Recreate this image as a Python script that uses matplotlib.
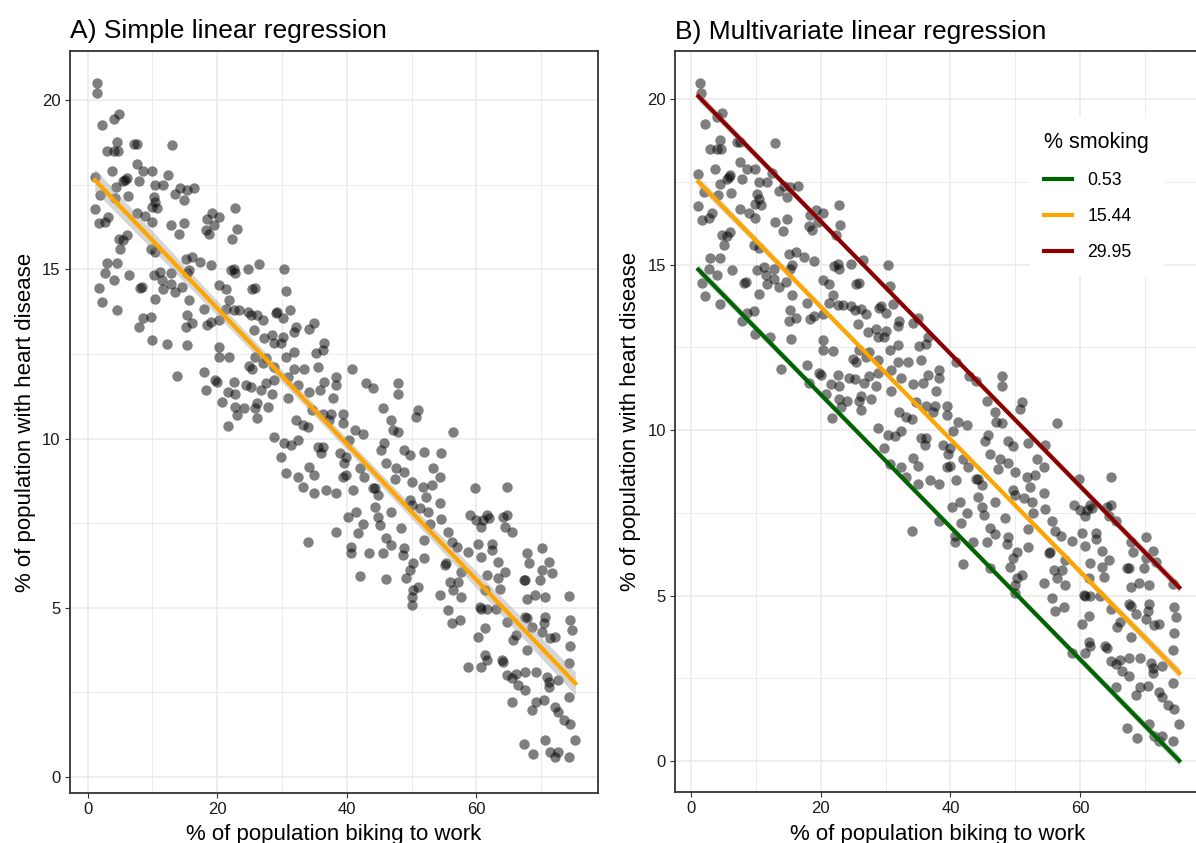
import numpy as np
import matplotlib
matplotlib.use("Agg")
import matplotlib.pyplot as plt
from matplotlib.lines import Line2D
from matplotlib.ticker import MultipleLocator

plt.rcParams['font.family'] = ['Liberation Sans', 'DejaVu Sans']

# ---- data: % biking (x) and % heart disease (y) ----
biking = [
 1.4, 1.5, 4.8, 4.0, 2.2, 4.5, 2.9, 4.0, 4.6, 7.1, 7.6, 13.0, 1.1, 3.7, 7.6, 8.6, 9.9, 6.0, 5.8, 5.5,
 7.9, 12.4, 10.4, 11.7, 4.4, 1.9, 4.2, 6.2, 14.3, 15.3, 16.4, 13.5, 14.8, 10.2, 10.4, 9.9, 10.7, 1.1, 7.6, 8.9,
 9.9, 3.2, 2.7, 1.7, 12.9, 14.8, 22.8, 19.2, 18.4, 20.3, 19.5, 18.2, 18.7, 23.0, 22.3, 14.1, 6.0, 4.8, 5.5, 5.0,
 9.7, 10.4, 15.1, 16.1, 17.4, 19.0, 15.6, 15.3, 2.9, 4.5, 2.7, 4.0, 6.3, 1.7, 2.2, 4.5, 8.4, 8.1, 11.2, 12.8,
 10.2, 11.5, 11.7, 12.8, 13.5, 14.6, 15.6, 10.4, 20.3, 21.3, 22.1, 22.6, 22.8, 24.7, 25.4, 21.8, 21.3, 22.6, 23.4, 24.7,
 25.2, 17.9, 19.0, 20.3, 15.3, 15.1, 16.1, 18.4, 7.9, 8.6, 9.7, 12.2, 15.4, 9.9, 13.8,
 26.5, 30.3, 25.9, 30.6, 29.3, 29.0, 30.1, 31.2, 26.2, 27.0, 25.7, 32.1, 31.9, 34.2, 35.0, 27.2, 28.5, 28.8, 30.1, 29.8,
 36.5, 36.3, 35.2, 30.6, 31.9, 20.3, 20.3, 21.8, 24.9, 25.4, 25.9, 27.0, 27.5, 28.8, 17.9, 19.7, 20.0, 18.2, 22.6, 21.6,
 22.8, 20.8, 30.9, 31.9, 33.4, 35.5, 28.8, 28.5, 27.5, 24.4, 25.2, 26.7, 22.8, 24.1, 23.1, 26.2, 25.9, 27.8, 26.2, 21.7,
 30.9, 32.4, 34.2, 35.8, 36.5, 38.3, 38.3, 37.8, 40.8, 42.9, 44.0, 32.1, 33.2, 34.0, 34.7, 36.3, 37.6, 37.3, 39.4, 39.4,
 28.8, 30.3, 31.4, 32.4, 29.8, 35.5, 36.3, 36.0, 38.9, 39.9, 40.4, 41.2, 42.5, 39.6, 30.6, 32.4, 34.2, 35.0, 33.2, 35.0,
 36.8, 38.3, 39.4, 39.9, 40.9, 42.7, 42.0, 44.0,
 47.9, 47.9, 45.6, 46.9, 47.1, 47.9, 51.0, 50.7, 56.4, 45.8, 45.3, 48.9, 49.7, 52.0, 54.6, 46.1, 47.6, 47.4, 48.9, 50.0,
 53.3, 54.4, 53.1, 51.8, 44.3, 44.8, 44.3, 46.9, 49.7, 50.0, 51.3, 52.3, 52.6, 54.4, 54.6, 52.8, 59.8, 44.8, 45.1, 46.1,
 46.9, 45.6, 48.4, 48.9, 48.7, 50.2, 49.7, 49.2, 52.0, 52.0, 55.7, 56.2, 57.0, 55.4, 55.2, 58.8, 57.7, 59.0, 60.0, 60.8,
 60.3, 60.8, 57.2, 55.9, 56.4, 57.7, 54.4, 51.0, 50.2, 50.0, 50.0, 55.7, 56.2, 57.5, 60.6, 60.3, 38.3, 40.2, 41.4, 42.5,
 41.7, 40.7, 40.7, 43.5, 42.0, 46.1, 34.0,
 61.6, 61.1, 61.9, 64.2, 64.7, 64.4, 65.5, 62.4, 62.4, 63.4, 64.4, 63.4, 63.7, 61.3, 61.6, 67.8, 68.1, 67.5, 67.3, 67.8,
 70.1, 71.2, 70.1, 71.7, 69.9, 69.1, 70.6, 74.3, 61.6, 60.8, 63.1, 67.8, 67.5, 64.7, 61.3, 70.6, 70.4, 70.1, 71.4, 72.2,
 68.6, 74.5, 74.8, 74.5, 74.3, 72.7, 74.3, 66.2, 65.7, 67.8, 58.8, 60.8, 61.6, 61.3, 63.9, 64.2, 64.7, 65.5, 66.2, 67.5,
 69.3, 66.5, 67.5, 70.9, 71.2, 71.2, 70.4, 69.3, 72.2, 72.7, 73.5, 74.5, 65.5, 68.6, 67.3, 68.8, 70.6, 71.4, 72.2, 72.7,
 74.3, 75.3, 64.8,
]
heart_disease = [
 20.5, 20.2, 19.6, 19.45, 19.26, 18.77, 18.5, 18.5, 18.5, 18.7, 18.7, 18.67, 17.73, 17.9, 18.1, 17.9, 17.9, 17.7, 17.65, 17.6,
 17.6, 17.78, 17.5, 17.5, 17.43, 17.2, 17.1, 17.16, 17.39, 17.35, 17.39, 17.24, 17.05, 17.14, 17.0, 16.85, 16.8, 16.78, 16.67, 16.57,
 16.4, 16.55, 16.4, 16.36, 16.3, 16.37, 16.8, 16.65, 16.5, 16.55, 16.3, 16.17, 16.04, 16.2, 15.9, 16.03, 16.0, 15.9, 15.86, 15.6,
 15.6, 15.5, 15.32, 15.37, 15.22, 15.12, 14.98, 14.88, 15.2, 15.2, 14.88, 14.68, 14.83, 14.46, 14.04, 13.81, 14.48, 14.45, 14.92, 14.88,
 14.83, 14.68, 14.43, 14.58, 14.33, 14.48, 14.09, 14.11, 14.53, 14.43, 14.97, 15.02, 14.88, 15.02, 14.43, 14.09, 13.84, 13.79, 13.79, 13.74,
 13.64, 13.84, 13.45, 13.5, 13.64, 13.3, 13.4, 13.35, 13.3, 13.55, 13.6, 12.8, 12.76, 12.9, 11.85,
 15.15, 15.0, 14.46, 14.36, 13.75, 13.7, 13.55, 13.8, 13.65, 13.5, 13.2, 13.3, 13.16, 13.25, 13.4, 12.96, 13.06, 12.81, 13.0, 12.81,
 12.81, 12.61, 12.53, 12.42, 12.56, 12.71, 12.42, 12.4, 12.15, 12.07, 12.42, 12.22, 12.37, 12.12, 11.97, 11.73, 11.68, 11.43, 11.68, 11.38,
 11.33, 11.09, 11.83, 12.07, 12.07, 12.12, 11.73, 11.33, 11.63, 11.58, 11.53, 11.43, 10.94, 10.89, 10.69, 11.04, 10.89, 10.94, 10.6, 10.38,
 11.19, 11.58, 11.38, 11.43, 11.68, 11.83, 11.58, 11.19, 12.07, 11.63, 11.48, 10.55, 10.4, 10.35, 10.84, 10.74, 10.74, 10.55, 10.74, 10.45,
 10.05, 9.86, 9.81, 9.96, 9.46, 9.76, 9.76, 9.56, 9.56, 9.46, 9.96, 10.25, 10.15, 9.27, 8.97, 8.87, 9.17, 8.92, 8.58, 8.38,
 8.48, 8.38, 8.87, 8.92, 8.48, 8.87, 9.12, 8.53,
 11.63, 11.33, 10.89, 10.55, 10.25, 10.2, 10.84, 10.64, 10.2, 9.86, 9.66, 9.66, 9.51, 9.61, 9.56, 9.27, 9.12, 8.82, 9.02, 8.72,
 9.12, 8.87, 8.63, 8.58, 8.53, 8.33, 7.99, 7.84, 8.18, 8.04, 7.94, 8.28, 7.84, 8.09, 7.61, 7.49, 8.53, 7.69, 7.44, 7.05,
 6.85, 6.61, 7.35, 6.76, 6.56, 6.31, 6.12, 5.87, 7.0, 6.46, 7.25, 6.95, 6.8, 6.31, 6.28, 6.66, 6.07, 7.74, 7.59, 7.39,
 6.9, 6.51, 5.77, 5.77, 5.52, 5.33, 5.38, 5.62, 5.52, 5.33, 5.08, 4.93, 4.54, 4.64, 5.03, 4.14, 7.25, 7.69, 7.84, 7.49,
 7.2, 6.8, 6.61, 6.61, 5.94, 5.84, 6.95,
 7.74, 7.59, 7.64, 7.69, 7.74, 7.39, 7.25, 6.9, 6.71, 6.36, 6.07, 5.87, 5.57, 5.52, 5.97, 6.61, 6.31, 5.82, 5.82, 5.27,
 6.76, 6.36, 6.12, 6.02, 5.82, 5.38, 5.33, 5.35, 4.98, 4.98, 4.98, 4.69, 4.74, 4.59, 4.39, 4.74, 4.54, 4.29, 4.1, 4.14,
 4.44, 4.64, 4.34, 3.87, 3.36, 2.87, 2.37, 4.19, 4.05, 3.75, 3.26, 3.26, 3.46, 3.6, 3.46, 3.41, 3.01, 2.92, 3.06, 3.1,
 3.1, 2.72, 2.57, 2.97, 2.82, 2.67, 2.27, 2.22, 2.07, 1.93, 1.68, 1.58, 2.22, 1.98, 0.99, 0.69, 1.11, 0.75, 0.6, 0.75,
 0.6, 1.11, 8.58,
]

# multivariate model: heart = b0 + b1*biking + b2*smoking
mv_intercept = 14.98
mv_biking = -0.2001
mv_smoking = 0.178
smoking_levels = [0.53, 15.44, 29.95]
smoking_labels = ["0.53", "15.44", "29.95"]
smoking_colors = ["#006400", "#FFA500", "#8B0000"]

x = np.array(biking)
y = np.array(heart_disease)
n = len(x)

# simple regression fit from the data, with 95% band
slope, intercept = np.polyfit(x, y, 1)
xs = np.linspace(x.min(), x.max(), 100)
resid = y - (intercept + slope * x)
s = np.sqrt(np.sum(resid ** 2) / (n - 2))
se = s * np.sqrt(1 / n + (xs - x.mean()) ** 2 / np.sum((x - x.mean()) ** 2))
band = 1.97 * se
band_mv = 0.45 * band

W, H = 1196, 843
fig = plt.figure(figsize=(W / 100, H / 100), dpi=100)
axA = fig.add_axes([69.6 / W, 1 - 793 / H, (598 - 69.6) / W, (793 - 51) / H])
axB = fig.add_axes([675 / W, 1 - 792 / H, (1200 - 675) / W, (792 - 51) / H])

grid_col = "#EBEBEB"
for ax in (axA, axB):
    ax.set_facecolor("white")
    ax.xaxis.set_major_locator(MultipleLocator(20))
    ax.xaxis.set_minor_locator(MultipleLocator(10))
    ax.yaxis.set_major_locator(MultipleLocator(5))
    ax.yaxis.set_minor_locator(MultipleLocator(2.5))
    ax.grid(which="major", color=grid_col, lw=1.2, zorder=0)
    ax.grid(which="minor", color=grid_col, lw=0.7, zorder=0)
    ax.tick_params(which="major", length=3.5, width=0.8, color="#333333",
                   labelsize=12, labelcolor="#1a1a1a", pad=3)
    ax.tick_params(which="minor", length=0)
    for sp in ax.spines.values():
        sp.set_color("#333333")
        sp.set_linewidth(1.3)
    ax.set_axisbelow(True)
    ax.scatter(x, y, s=56, color="black", alpha=0.5, linewidths=0, zorder=2)
    ax.set_xlabel("% of population biking to work", fontsize=16)
    ax.set_ylabel("% of population with heart disease", fontsize=16)

axA.xaxis.set_label_coords(0.5, -0.0418)
axB.xaxis.set_label_coords(0.5, -0.0432)
axA.yaxis.set_label_coords(-0.064, 0.5)
axB.yaxis.set_label_coords(-0.0653, 0.5)

# Panel A
axA.fill_between(xs, intercept + slope * xs - band, intercept + slope * xs + band,
                 color="#999999", alpha=0.4, lw=0, zorder=3)
axA.plot(xs, intercept + slope * xs, color="#FFA500", lw=3.0, zorder=4)
axA.set_xlim(-2.8, 78.8)
axA.set_ylim(-0.47, 21.45)
axA.set_title("A) Simple linear regression", loc="left", fontsize=19, pad=9)

# Panel B
handles = []
for lvl, lab, col in zip(smoking_levels, smoking_labels, smoking_colors):
    yl = mv_intercept + mv_biking * xs + mv_smoking * lvl
    axB.fill_between(xs, yl - band_mv, yl + band_mv, color="#999999", alpha=0.4, lw=0, zorder=3)
    axB.plot(xs, yl, color=col, lw=3.0, zorder=4)
    handles.append(Line2D([0], [0], color=col, lw=3.0, label=lab))
axB.set_xlim(-2.5, 78.5)
axB.set_ylim(-0.94, 21.46)
axB.set_title("B) Multivariate linear regression", loc="left", fontsize=19, pad=9)

leg = axB.legend(handles=handles, title="% smoking", loc="upper left",
                 bbox_to_anchor=(1030 / W, 1 - 118 / H), bbox_transform=fig.transFigure,
                 frameon=True, fancybox=False, fontsize=12.7, title_fontsize=15.5,
                 handlelength=1.6, handletextpad=0.85, labelspacing=1.07,
                 borderpad=0.8, borderaxespad=0)
leg.get_frame().set_facecolor("white")
leg.get_frame().set_edgecolor("white")
leg.get_frame().set_alpha(1.0)
leg._legend_box.align = "left"
leg.set_zorder(10)

fig.savefig("out.png", dpi=100)
